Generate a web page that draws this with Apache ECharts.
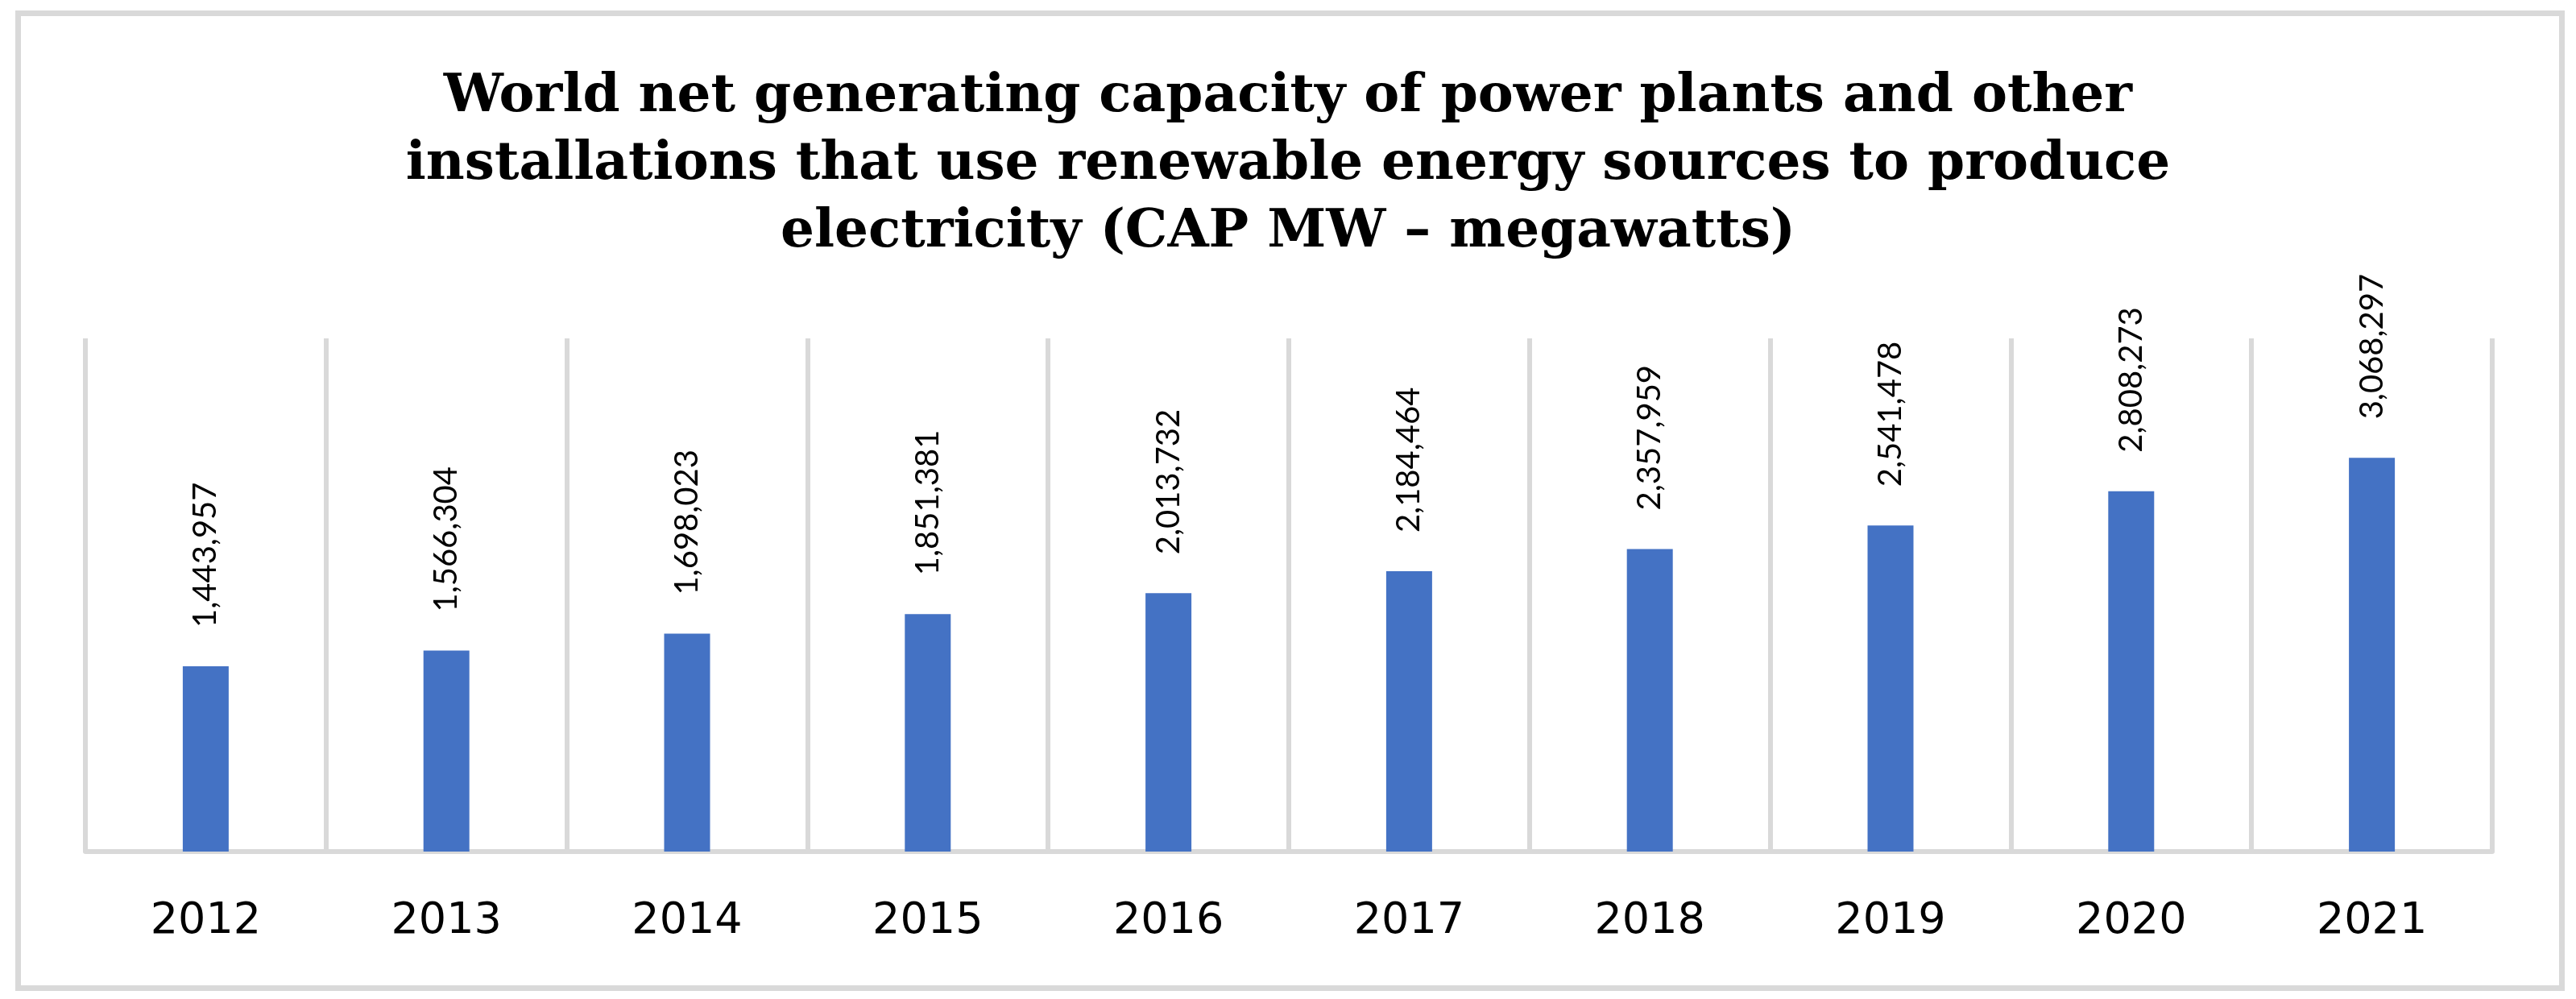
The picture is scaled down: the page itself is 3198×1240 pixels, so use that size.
<!DOCTYPE html>
<html>
<head>
<meta charset="utf-8">
<script src="https://cdn.jsdelivr.net/npm/echarts@6/dist/echarts.min.js"></script>
<style>
  html, body { margin: 0; padding: 0; background: #ffffff; }
  #chart { width: 3198px; height: 1240px; }
</style>
</head>
<body>
<div id="chart"></div>
<script>
// ---- data ----
var years = ['2012', '2013', '2014', '2015', '2016', '2017', '2018', '2019', '2020', '2021'];
var capacityMW = [1443957, 1566304, 1698023, 1851381, 2013732, 2184464, 2357959, 2541478, 2808273, 3068297];
var titleText = 'World net generating capacity of power plants and other\ninstallations that use renewable energy sources to produce\nelectricity (CAP MW \u2013 megawatts)';
var valueMax = 4000000;

function fmt(v) {
  return String(v).replace(/\B(?=(\d{3})+(?!\d))/g, ',');
}

var chart = echarts.init(document.getElementById('chart'), null, { renderer: 'canvas' });
chart.setOption({
  backgroundColor: '#ffffff',
  animation: false,
  title: {
    text: titleText,
    left: 'center',
    top: 74,
    textStyle: {
      fontFamily: 'DejaVu Serif',
      fontWeight: 'bold',
      fontSize: 66,
      lineHeight: 84,
      color: '#000000'
    }
  },
  graphic: [{
    type: 'rect',
    shape: { x: 22.5, y: 16.5, width: 3158, height: 1210 },
    style: { fill: 'none', stroke: '#d9d9d9', lineWidth: 7 },
    silent: true,
    z: -1
  }],
  grid: { left: 106, right: 104, top: 420, bottom: 183, containLabel: false },
  xAxis: {
    type: 'category',
    data: years,
    boundaryGap: true,
    axisLine: { show: true, lineStyle: { color: '#d9d9d9', width: 6 } },
    axisTick: { show: false },
    splitLine: { show: true, lineStyle: { color: '#d9d9d9', width: 6 } },
    axisLabel: {
      margin: 60,
      fontFamily: 'DejaVu Sans',
      fontSize: 54,
      color: '#000000'
    }
  },
  yAxis: {
    type: 'value',
    min: 0,
    max: valueMax,
    show: false,
    splitLine: { show: false }
  },
  series: [{
    type: 'bar',
    data: capacityMW,
    barWidth: 57,
    itemStyle: { color: '#4472c4' },
    label: {
      show: true,
      position: 'top',
      distance: 48,
      rotate: 90,
      align: 'left',
      verticalAlign: 'middle',
      fontFamily: 'Lato',
      fontSize: 40,
      color: '#000000',
      formatter: function (p) { return fmt(p.value); }
    }
  }]
});
</script>
</body>
</html>
